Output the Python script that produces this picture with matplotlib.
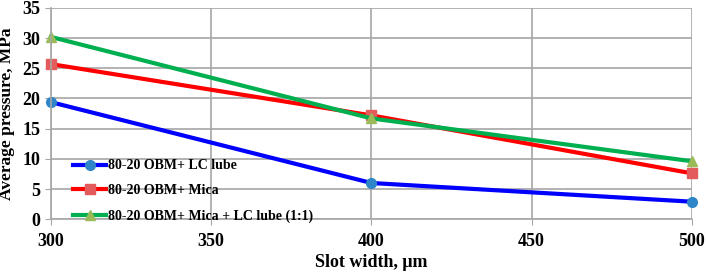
import matplotlib.pyplot as plt

plt.rcParams['font.family'] = 'Liberation Serif'
plt.rcParams['font.weight'] = 'bold'

slot_width = [300, 400, 500]
lc_lube = [19.4, 6.0, 2.9]
mica = [25.7, 17.2, 7.6]
mica_lc = [30.2, 16.7, 9.6]
labels = ["80-20 OBM+ LC lube", "80-20 OBM+ Mica", "80-20 OBM+ Mica + LC lube (1:1)"]

fig = plt.figure(figsize=(7.06, 2.74), dpi=100)
ax = fig.add_axes([0.072, 0.2, 0.908, 0.771])

ax.plot(slot_width, lc_lube, color="#0000FF", lw=3, marker="o", ms=7,
        mfc="#2E86C8", mec="#2E86C8", label=labels[0], clip_on=False)
ax.plot(slot_width, mica, color="#FF0000", lw=3, marker="s", ms=7,
        mfc="#E35B5B", mec="#E35B5B", label=labels[1], clip_on=False)
ax.plot(slot_width, mica_lc, color="#00B050", lw=3, marker="^", ms=7,
        mfc="#9BBB59", mec="#9BBB59", label=labels[2], clip_on=False)

ax.set_xlim(300, 500)
ax.set_ylim(0, 35)
ax.set_xticks(range(300, 501, 50))
ax.set_yticks(range(0, 36, 5))
ax.grid(True, color="#A6A6A6", lw=1.2)
ax.set_axisbelow(True)
for s in ["top", "right"]:
    ax.spines[s].set_visible(False)
for s in ["left", "bottom"]:
    ax.spines[s].set_color("#A6A6A6")
    ax.spines[s].set_linewidth(1.2)
ax.tick_params(axis="both", length=4, color="#A6A6A6", labelsize=13)
ax.tick_params(axis="x", pad=6)

ax.set_xlabel("Slot width, μm", fontsize=13, fontweight="bold", labelpad=3)
ax.set_ylabel("Average pressure, MPa", fontsize=12.5, fontweight="bold", labelpad=5)

ax.legend(loc="lower left", frameon=False, fontsize=10, handlelength=2.4,
          bbox_to_anchor=(0.015, -0.075), labelspacing=0.85, handletextpad=0.1)

fig.savefig("out.png", dpi=100)
